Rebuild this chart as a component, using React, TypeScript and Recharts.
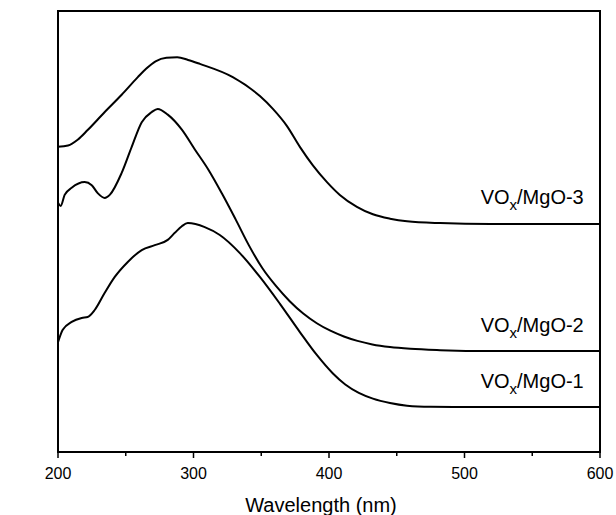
import React from 'react';
import { LineChart, Line, XAxis, YAxis, ReferenceArea, ReferenceDot, Label } from 'recharts';

// Wavelength (nm) and Kubelka-Munk values (arbitrary units, 0-100 scale)
const wl1 = [200, 203.5, 210.1, 217.5, 221.9, 227.1, 234.5, 241.9, 251.5, 261.8, 271.4, 281, 286.2, 291.4, 295.8, 308.3, 319.4, 334.2, 349, 363.8, 378.5, 391, 402.9, 412, 422, 432.4, 445, 457.6, 475, 500, 600];
const km1 = [24.9, 27.7, 29.5, 30.4, 30.6, 32.2, 36.1, 39.7, 43.1, 45.8, 46.9, 48.1, 49.7, 51.2, 51.9, 51.0, 49.2, 45.1, 39.7, 33.6, 27.2, 22.0, 17.8, 15.3, 13.4, 12.1, 11.1, 10.5, 10.25, 10.2, 10.2];

const wl2 = [200, 202, 204.9, 210.1, 219.7, 224.9, 229.3, 234.5, 238.2, 247.0, 254.4, 261.8, 269.2, 273.6, 281, 291.4, 301, 311, 321, 331, 341, 351, 361, 371, 381, 391, 401, 411, 421, 432, 445, 460, 482, 520, 600];
const km2 = [56.5, 55.8, 58.3, 59.9, 61.2, 60.5, 58.7, 57.6, 58.3, 63.3, 69.2, 74.8, 77.1, 77.8, 76.5, 73.1, 68.6, 64.0, 58.6, 52.8, 46.8, 41.6, 37.6, 34.2, 31.4, 29.2, 27.5, 26.2, 25.2, 24.4, 23.8, 23.4, 23.1, 22.9, 22.9];

const wl3 = [200, 207.4, 214.5, 221.9, 234.5, 247.0, 258.9, 265, 272, 280, 288, 296, 304.7, 329, 349, 358.6, 369, 378.5, 388.1, 398.5, 408, 420.6, 432.4, 445, 457.6, 482, 519, 600];
const km3 = [69.2, 69.5, 70.8, 73.0, 77.1, 81.0, 85.0, 86.9, 88.6, 89.4, 89.5, 88.9, 88.0, 85.0, 80.7, 77.8, 73.9, 69.2, 65.0, 61.2, 58.3, 55.6, 53.9, 52.9, 52.3, 51.9, 51.7, 51.7];

const xTicks = [200, 250, 300, 350, 400, 450, 500, 550, 600];
const seriesNames = ['MgO-1', 'MgO-2', 'MgO-3'];
const labelX = [588, 588, 588];
const labelY = [14.5, 27.2, 56.2];

const build = (xs: number[], ys: number[]) => xs.map((x, i) => ({ x, y: ys[i] }));
const d1 = build(wl1, km1);
const d2 = build(wl2, km2);
const d3 = build(wl3, km3);

const FONT = 'Liberation Sans, Arial, Helvetica, sans-serif';

const XTick = (props: any) => {
  const { x, y, payload } = props;
  const major = payload.value % 100 === 0;
  return (
    <g>
      <line x1={x} x2={x} y1={y} y2={y + (major ? 6 : 4)} stroke="#000" strokeWidth={1.5} />
      {major && (
        <text x={x} y={y + 27} textAnchor="middle" fontSize={16} fontFamily={FONT} fill="#000">
          {payload.value}
        </text>
      )}
    </g>
  );
};

const makeSeriesLabel = (name: string) => (p: any) => {
  const vb = p.viewBox || {};
  const x = vb.x + (vb.width || 0) / 2;
  const y = vb.y + (vb.height || 0) / 2;
  return (
    <text x={x} y={y} textAnchor="end" fontSize={20} fontFamily={FONT} fill="#000">
      <tspan>VO</tspan>
      <tspan fontSize={15} dy={6}>x</tspan>
      <tspan dy={-6}>/{name}</tspan>
    </text>
  );
};

export default function App() {
  return (
    <div style={{ position: 'absolute', left: 0, top: 0, background: '#fff' }}>
      <LineChart width={616} height={515} margin={{ top: 11, right: 16, left: 58, bottom: 33 }}>
        <XAxis
          type="number"
          dataKey="x"
          domain={[200, 600]}
          ticks={xTicks}
          interval={0}
          tickSize={0}
          tickMargin={0}
          tickLine={false}
          tick={<XTick />}
          height={30}
          axisLine={{ stroke: '#000', strokeWidth: 2 }}
        >
          <Label
            content={() => (
              <text x={321} y={512} textAnchor="middle" fontSize={20} fontFamily={FONT} fill="#000">
                Wavelength (nm)
              </text>
            )}
          />
        </XAxis>
        <YAxis
          type="number"
          domain={[0, 100]}
          width={0}
          tick={false}
          tickLine={false}
          axisLine={{ stroke: '#000', strokeWidth: 2 }}
        >
          <Label
            content={() => (
              <text
                x={29}
                y={218}
                transform="rotate(-90 29 218)"
                textAnchor="middle"
                fontSize={20}
                fontFamily={FONT}
                fill="#000"
              >
                Kubelka-Munk Units
              </text>
            )}
          />
        </YAxis>
        <ReferenceArea x1={200} x2={600} y1={0} y2={100} fill="none" stroke="#000" strokeWidth={2} ifOverflow="visible" />
        <Line data={d1} dataKey="y" type="monotone" stroke="#000" strokeWidth={2} dot={false} isAnimationActive={false} />
        <Line data={d2} dataKey="y" type="monotone" stroke="#000" strokeWidth={2} dot={false} isAnimationActive={false} />
        <Line data={d3} dataKey="y" type="monotone" stroke="#000" strokeWidth={2} dot={false} isAnimationActive={false} />
        {seriesNames.map((n, i) => (
          <ReferenceDot
            key={n}
            x={labelX[i]}
            y={labelY[i]}
            r={0}
            fill="none"
            stroke="none"
            ifOverflow="visible"
            label={makeSeriesLabel(n)}
          />
        ))}
      </LineChart>
    </div>
  );
}
